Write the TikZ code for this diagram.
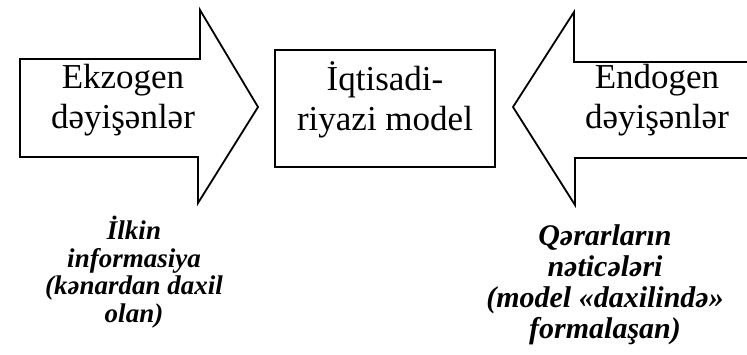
\documentclass[tikz,border=0pt]{standalone}
\usepackage{fontspec}
\setmainfont{Liberation Serif}
\usepackage{tikz}

\begin{document}
\begin{tikzpicture}[x=1pt,y=-1pt]
\tikzstyle{big}=[align=center, inner sep=0pt, font=\fontsize{35}{40}\selectfont]
\tikzstyle{note}=[align=center, inner sep=0pt, font=\bfseries\itshape\fontsize{27}{27.5}\selectfont]
\tikzstyle{notebig}=[align=center, inner sep=0pt, font=\bfseries\itshape\fontsize{30}{31}\selectfont]
\tikzstyle{outline}=[draw=black, line width=1.8pt, line join=miter]

\useasboundingbox (0,0) rectangle (747,354);

% block arrow on the left, pointing right
\draw[outline] (20,59) -- (200,59) -- (200,10) -- (258,107) -- (198,203) -- (198,157) -- (20,157) -- cycle;

% the model box
\draw[outline] (275,50) rectangle (495,167);

% block arrow on the right, pointing left (shaft runs off the edge)
\draw[outline] (747,62) -- (574,62) -- (574,12) -- (513,107) -- (575,205) -- (575,158) -- (747,158);

\node at (123,100) [big] (ekzogen) {Ekzogen\\dəyişənlər};
\node at (385,100) [big] (model) {İqtisadi-\\riyazi model};
\node at (657,100) [big] (endogen) {Endogen\\dəyişənlər};

\node at (134,272) [note] (ilkin) {İlkin\\informasiya\\(kənardan daxil\\olan)};
\node at (605,285) [notebig] (qerar) {Qərarların\\nəticələri\\(model «daxilində»\\formalaşan)};

\end{tikzpicture}
\end{document}
